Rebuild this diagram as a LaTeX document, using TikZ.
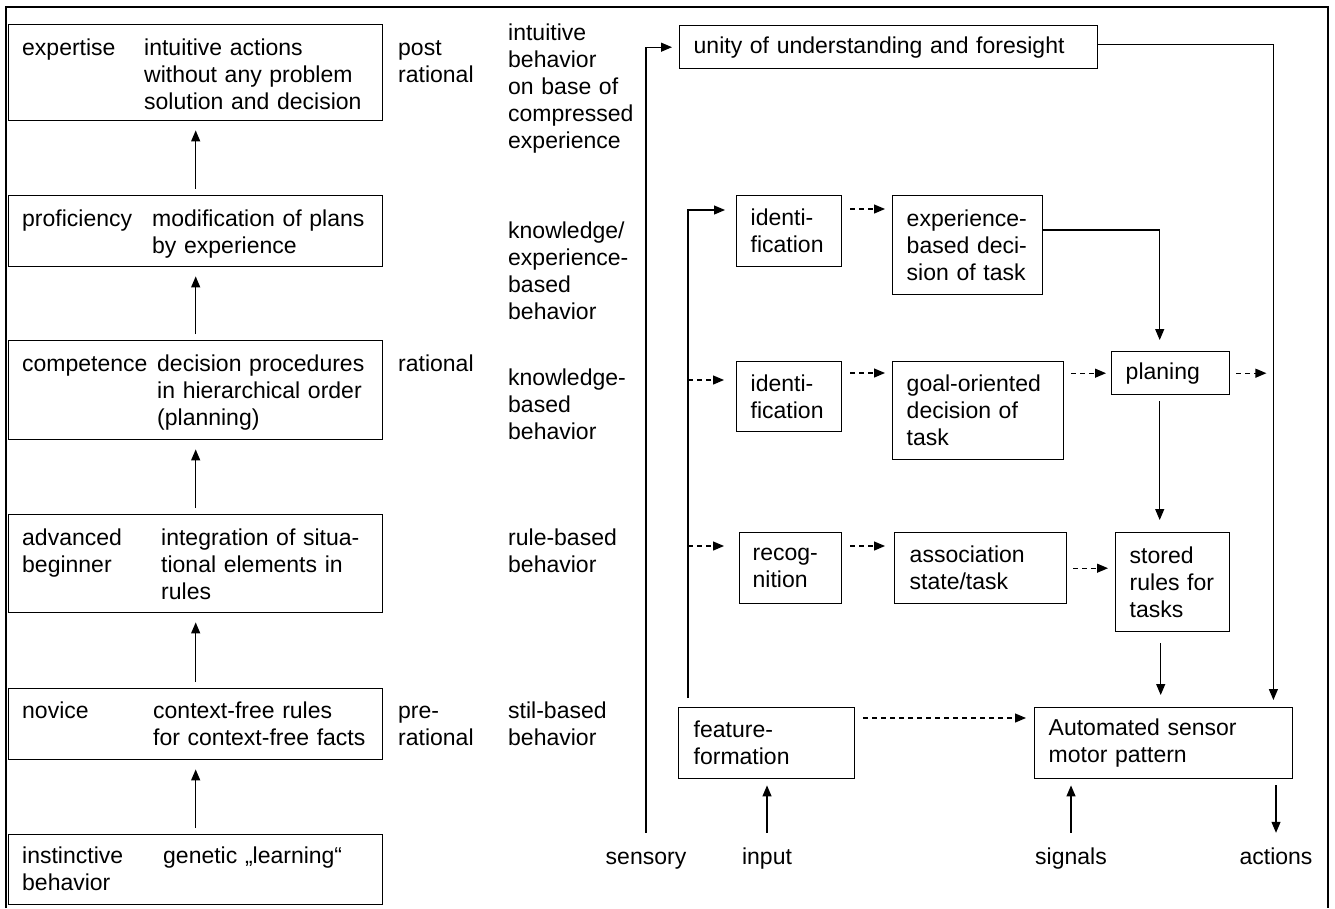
\documentclass[tikz,border=0pt]{standalone}
\usepackage{fontspec}
\setmainfont{Liberation Sans}
\usetikzlibrary{arrows.meta}
\tikzset{
    >={Triangle[length=11pt, width=9pt]}, % filled arrow heads
    every node/.style={font=\fontsize{23}{27}\selectfont, inner sep=0pt},
    box/.style={draw, line width=1.4pt, anchor=north west}, % placed by the top left corner
    stage/.style={box, minimum width=374pt}, % boxes of the left column
    panel/.style={box, align=left, inner xsep=14pt}, % boxes of the right part
    txt/.style={anchor=base west, align=left, text width=230pt}, % placed by the first baseline
    port/.style={anchor=base, text height=17pt}, % texts at the bottom
    flow/.style={->, line width=1.2pt},
    maybe/.style={->, line width=1.2pt, dash pattern=on 5pt off 4pt},
    up/.style={flow, shorten <=6pt, shorten >=9pt},
}

\begin{document}
\begin{tikzpicture}[x=1pt, y=-1pt]
    \useasboundingbox (0,0) rectangle (1335,908);
    \draw[line width=2.5pt] (6,908) -- (6,7) -- (1328,7) -- (1328,908);

    % left column
    \node[stage, minimum height=96pt] (expertise) at (8,24) {};
    \node[stage, minimum height=71pt] (proficiency) at (8,195) {};
    \node[stage, minimum height=99pt] (competence) at (8,340) {};
    \node[stage, minimum height=98pt] (advanced) at (8,514) {};
    \node[stage, minimum height=71pt] (novice) at (8,688) {};
    \node[stage, minimum height=70pt] (instinct) at (8,834) {};

    \node[txt] (l1) at (22,55) {expertise};
    \node[txt] (d1) at (144,55) {intuitive actions\\without any problem\\solution and decision};
    \node[txt] (l2) at (22,226) {proficiency};
    \node[txt] (d2) at (152,226) {modification of plans\\by experience};
    \node[txt] (l3) at (22,371) {competence};
    \node[txt] (d3) at (157,371) {decision procedures\\in hierarchical order\\(planning)};
    \node[txt] (l4) at (22,545) {advanced\\beginner};
    \node[txt] (d4) at (161,545) {integration of situa-\\tional elements in\\rules};
    \node[txt] (l5) at (22,718) {novice};
    \node[txt] (d5) at (153,718) {context-free rules\\for context-free facts};
    \node[txt] (l6) at (22,863) {instinctive\\behavior};
    \node[txt] (d6) at (163,863) {genetic „learning“};

    \draw[up] (proficiency.north) -- (expertise.south);
    \draw[up] (competence.north) -- (proficiency.south);
    \draw[up] (advanced.north) -- (competence.south);
    \draw[up] (novice.north) -- (advanced.south);
    \draw[up] (instinct.north) -- (novice.south);

    % middle columns
    \node[txt] (post) at (398,55) {post\\rational};
    \node[txt] (rational) at (398,371) {rational};
    \node[txt] (pre) at (398,718) {pre-\\rational};
    \node[txt] (intuitive) at (508,40) {intuitive\\behavior\\on base of\\compressed\\experience};
    \node[txt] (knowexp) at (508,238) {knowledge/\\experience-\\based\\behavior};
    \node[txt] (knowledge) at (508,385) {knowledge-\\based\\behavior};
    \node[txt] (rule) at (508,545) {rule-based\\behavior};
    \node[txt] (stil) at (508,718) {stil-based\\behavior};

    % right part
    \node[panel, text width=390pt, minimum height=43pt] (unity) at (679,25) {unity of understanding and foresight};
    \node[panel, text width=77pt, minimum height=71pt] (ident1) at (736,195) {identi-\\fication};
    \node[panel, text width=122pt, minimum height=99pt] (expdec) at (892,195) {experience-\\based deci-\\sion of task};
    \node[panel, text width=77pt, minimum height=70pt] (ident2) at (736,361) {identi-\\fication};
    \node[panel, text width=143pt, minimum height=98pt] (goaldec) at (892,361) {goal-oriented\\decision of\\task};
    \node[panel, text width=90pt, minimum height=43pt] (planing) at (1111,351) {planing};
    \node[panel, text width=76pt, minimum height=71pt, inner xsep=13pt] (recog) at (739,532) {recog-\\nition};
    \node[panel, text width=142pt, minimum height=71pt, inner xsep=15pt] (assoc) at (894,532) {association\\state/task};
    \node[panel, text width=86pt, minimum height=99pt] (stored) at (1115,532) {stored\\rules for\\tasks};
    \node[panel, text width=146pt, minimum height=71pt, inner xsep=15pt] (feature) at (678,707) {feature-\\formation};
    \node[panel, text width=230pt, minimum height=71pt] (auto) at (1034,707) {Automated sensor\\motor pattern};

    \node[port] (sensory) at (646,864) {sensory};
    \node[port] (input) at (767,864) {input};
    \node[port] (signals) at (1071,864) {signals};
    \node[port] (actions) at (1276,864) {actions};

    \coordinate (fline) at ([shift={(10pt,9pt)}]feature.north west);
    \coordinate (acol) at ([xshift=-20pt]auto.north east);
    \coordinate (pcol) at ([xshift=-11pt]planing.north);
    \coordinate (pbot) at ([xshift=-11pt]planing.south);
    \coordinate (sbot) at ([xshift=-12pt]stored.south);
    \coordinate (in1) at ([yshift=-15pt]ident1.north west);
    \coordinate (in2) at ([yshift=-19pt]ident2.north west);
    \coordinate (in3) at ([yshift=-14pt]recog.north west);
    \coordinate (o1) at ([yshift=-14pt]ident1.north east);
    \coordinate (o2) at ([yshift=-12pt]ident2.north east);
    \coordinate (o3) at ([yshift=-14pt]recog.north east);
    \coordinate (fo) at ([yshift=-11pt]feature.north east);

    \draw[flow, shorten <=14pt, shorten >=7pt] (sensory.north) |- (unity.west);
    \draw[flow, shorten >=7pt] ([yshift=3pt]unity.east) -| (acol);
    \draw[flow, shorten >=11pt] (fline) |- (in1);
    \draw[maybe, shorten >=12pt] (fline |- in2) -- (in2);
    \draw[maybe, shorten >=15pt] (fline |- in3) -- (in3);
    \draw[maybe, shorten <=8pt, shorten >=7pt] (o1) -- (o1 -| expdec.west);
    \draw[maybe, shorten <=8pt, shorten >=7pt] (o2) -- (o2 -| goaldec.west);
    \draw[maybe, shorten <=8pt, shorten >=9pt] (o3) -- (o3 -| assoc.west);
    \draw[flow, shorten >=11pt] ([yshift=-35pt]expdec.north east) -| (pcol);
    \draw[maybe, shorten <=7pt, shorten >=5pt] (goaldec.east |- planing.west) -- (planing.west);
    \draw[maybe, shorten <=6pt, shorten >=7pt] (planing.east) -- (planing.east -| acol);
    \draw[flow, shorten <=6pt, shorten >=12pt] (pbot) -- (pbot |- stored.north);
    \draw[maybe, shorten <=6pt, shorten >=7pt] (assoc.east) -- (assoc.east -| stored.west);
    \draw[flow, shorten <=11pt, shorten >=12pt] (sbot) -- (sbot |- auto.north);
    \draw[maybe, shorten <=8pt, shorten >=8pt] (fo) -- (fo -| auto.west);
    \draw[flow, shorten <=14pt, shorten >=6pt] (input.north) -- (input.north |- feature.south);
    \draw[flow, shorten <=14pt, shorten >=6pt] (signals.north) -- (signals.north |- auto.south);
    \draw[flow, shorten <=6pt, shorten >=14pt] (actions.north |- auto.south) -- (actions.north);
\end{tikzpicture}
\end{document}
